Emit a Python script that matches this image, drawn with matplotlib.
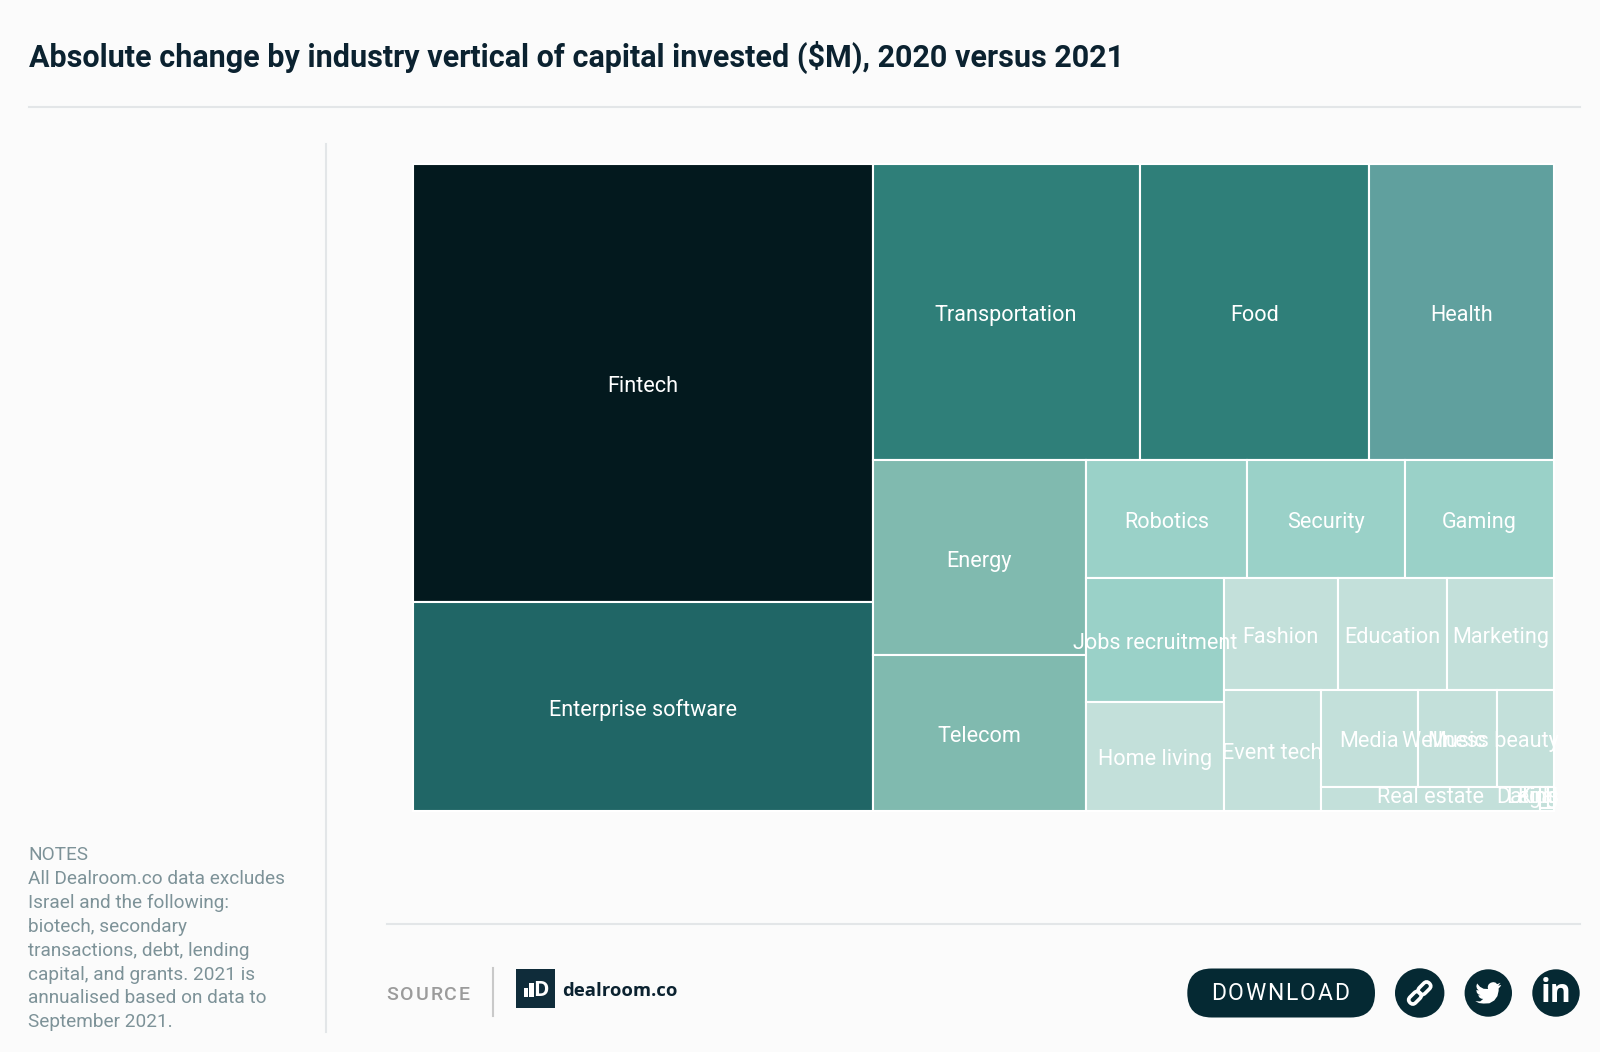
# ---------- IMPORT ------------
import matplotlib
matplotlib.use("Agg")
import matplotlib.pyplot as plt
from matplotlib.colors import BoundaryNorm, ListedColormap
from matplotlib.patches import Circle, FancyBboxPatch, Polygon, Rectangle
from matplotlib.transforms import Affine2D
# ------------------------------


# ---------- DATA --------------
industries = ["Fintech", "Enterprise software", "Transportation", "Food", "Health",
              "Energy", "Telecom", "Robotics", "Security", "Gaming",
              "Jobs recruitment", "Home living", "Fashion", "Education", "Marketing",
              "Event tech", "Media", "Music", "Wellness beauty", "Real estate",
              "Dating", "Legal", "Kids"]
# change in capital invested, $M
change_musd = [14340, 6839, 5639, 4853, 3897,
               2971, 2364, 1350, 1324, 1248,
               1209, 1069, 906, 870, 848,
               844, 670, 551, 400, 364,
               11, 9, 3]
# how many industries share each strip of the treemap
strip_sizes = [2, 3, 2, 3, 2, 3, 1, 3, 1, 2, 1]
colour_bins = [0, 1150, 2000, 3500, 4500, 6000, 10000, 20000]
notes = ["NOTES", "All Dealroom.co data excludes", "Israel and the following:",
         "biotech, secondary", "transactions, debt, lending",
         "capital, and grants. 2021 is", "annualised based on data to",
         "September 2021."]
title = "Absolute change by industry vertical of capital invested ($M), 2020 versus 2021"
# ------------------------------


# ---------- CONFIG ------------
bin_colours = ["#c3e0da", "#9ad1c8", "#80baaf", "#60a09e", "#2f7f79", "#206666", "#03191e"]
background = "#fbfbfb"
dark = "#052933"
rule = "#e3e6e8"
label_font = "Roboto"
label_size = 15.6
notes_size = 13.7
title_size = 22.0
# ------------------------------


def strip_layout(values, sizes):
    # columns and rows take turns, each strip as thick as its share of what is left
    cells = []
    x0, y0, x1, y1 = 0.0, 0.0, 1.0, 1.0
    left = float(sum(values))
    i = 0
    for n, size in enumerate(sizes):
        group = values[i:i + size]
        share = sum(group) / left
        if n % 2 == 0:
            xm = x0 + (x1 - x0) * share
            y = y0
            for v in group:
                h = (y1 - y0) * v / sum(group)
                cells.append((x0, y, xm - x0, h))
                y += h
            x0 = xm
        else:
            ym = y0 + (y1 - y0) * share
            x = x0
            for v in group:
                w = (x1 - x0) * v / sum(group)
                cells.append((x, y0, w, ym - y0))
                x += w
            y0 = ym
        left -= sum(group)
        i += size
    return cells


def spaced_text(ax, x0, x1, y, text, **kw):
    # letter spaced text, one letter at a time between x0 and x1
    renderer = ax.figure.canvas.get_renderer()
    arts = [ax.text(0, y, c, ha="left", va="center", **kw) for c in text]
    widths = [a.get_window_extent(renderer).width for a in arts]
    gap = (x1 - x0 - sum(widths)) / (len(text) - 1)
    x = x0
    for a, w in zip(arts, widths):
        a.set_x(x)
        x += w + gap


fig = plt.figure(figsize=(16, 10.52), dpi=100, facecolor=background)

# page furniture in pixel coordinates
page = fig.add_axes([0, 0, 1, 1])
page.set_xlim(0, 1600)
page.set_ylim(1052, 0)
page.axis("off")

page.text(29, 57, title, fontsize=title_size, fontweight="bold", family=label_font,
          color="#0b2230", ha="left", va="center")
page.plot([29, 1580], [106.5, 106.5], color=rule, lw=1.5)
page.plot([326, 326], [144, 1032], color=rule, lw=1.5)
page.plot([387, 1580], [923.5, 923.5], color=rule, lw=1.5)

for n, line in enumerate(notes):
    page.text(28.5, 855.5 + n * 23.8, line, fontsize=notes_size, family=label_font,
              color="#7d9298", ha="left", va="center")

spaced_text(page, 386, 470, 994.5, "SOURCE", fontsize=14, family=label_font,
            color="#9b9b9b", fontweight="medium")
page.plot([493, 493], [968, 1016], color="#c9c9c9", lw=1.5)

# dealroom logo
page.add_patch(Rectangle((516, 968.5), 39, 39, color="#0f2c3a", lw=0))
page.add_patch(Rectangle((523.5, 988), 4, 9, color="white", lw=0))
page.add_patch(Rectangle((529, 983), 4.5, 14, color="white", lw=0))
page.text(540.5, 990, "D", fontsize=15, fontweight="bold", family="Open Sans", color="white",
          ha="center", va="center")
page.text(562, 991, "dealroom.co", fontsize=13.3, fontweight="bold", family="Open Sans",
          color="#0b2230", ha="left", va="center")

# download button
page.add_patch(FancyBboxPatch((1187.3, 968.5), 187.7, 49, boxstyle="round,pad=0,rounding_size=24.5",
                              color=dark, lw=0))
spaced_text(page, 1211, 1349, 994, "DOWNLOAD", fontsize=16.5, family=label_font, color="white")

# share icons
page.add_patch(Circle((1419.7, 993), 24.7, color=dark, lw=0))
page.add_patch(Circle((1488.3, 993), 23.7, color=dark, lw=0))
page.add_patch(Circle((1556, 993), 23.7, color=dark, lw=0))

rotate = Affine2D().rotate_deg_around(1419.7, 993, -45) + page.transData
for cx in [1413, 1426.4]:
    page.add_patch(FancyBboxPatch((cx - 7, 989), 14, 8, boxstyle="round,pad=0,rounding_size=4",
                                  fill=False, ec="white", lw=2.6, transform=rotate))

bird = [(23.95, 4.57), (21.13, 5.35), (23.29, 2.62), (20.16, 3.81), (18.6, 2.35), (16.5, 1.95),
        (14.3, 2.5), (12.5, 3.8), (11.6, 5.6), (11.5, 7.1), (11.78, 8.29), (7.69, 8.1), (4.4, 6.3),
        (1.64, 3.16), (0.97, 5.64), (1.5, 7.9), (3.16, 9.73), (0.93, 9.12), (1.4, 11.6), (2.7, 13.2),
        (4.88, 14.0), (2.67, 14.09), (3.8, 16.1), (5.4, 17.2), (7.28, 17.5), (4.5, 19.8), (1.18, 19.6),
        (0, 19.54), (3.5, 21.3), (7.56, 21.75), (13.0, 21.5), (17.5, 18.9), (20.4, 14.9), (21.55, 10.0),
        (21.55, 7.76), (23, 6.2)]
page.add_patch(Polygon([(1488.3 - 13 + px * 26 / 24, 993 - 13 + py * 26 / 24) for px, py in bird],
                       color="white", lw=0))
page.text(1556, 994, "in", fontsize=23, fontweight="bold", family="Open Sans", color="white",
          ha="center", va="center")

# treemap
tree = fig.add_axes([413.0 / 1600, 1 - 810.7 / 1052, 1141 / 1600, 646.7 / 1052])
tree.set_xlim(0, 1)
tree.set_ylim(1, 0)
tree.axis("off")
fig.canvas.draw()
renderer = fig.canvas.get_renderer()

cmap = ListedColormap(bin_colours)
norm = BoundaryNorm(colour_bins, cmap.N)
tree_box = tree.get_window_extent(renderer)
label_drop = 3.5 / tree_box.height  # labels sit a little under the middle of the cell

cells = strip_layout(change_musd, strip_sizes)
for name, value, (x, y, w, h) in zip(industries, change_musd, cells):
    tree.add_patch(Rectangle((x, y), w, h, facecolor=cmap(norm(value)), edgecolor="white",
                             lw=1.5, clip_on=False))

for name, value, (x, y, w, h) in zip(industries, change_musd, cells):
    t = tree.text(x + w / 2, y + h / 2 + label_drop, name, fontsize=label_size, family=label_font,
                  color="white", ha="center", va="center", clip_on=False)
    # labels are pushed back inside the chart at the right and bottom sides
    box = t.get_window_extent(renderer)
    if box.x1 > tree_box.x1 + 5:
        t.set_x(x + w / 2 - (box.x1 - tree_box.x1 - 5) / tree_box.width)
    if box.y0 < tree_box.y0 + 3:
        t.set_y(y + h / 2 + label_drop - (tree_box.y0 + 3 - box.y0) / tree_box.height)

fig.savefig("out.png", dpi=100, facecolor=background)
